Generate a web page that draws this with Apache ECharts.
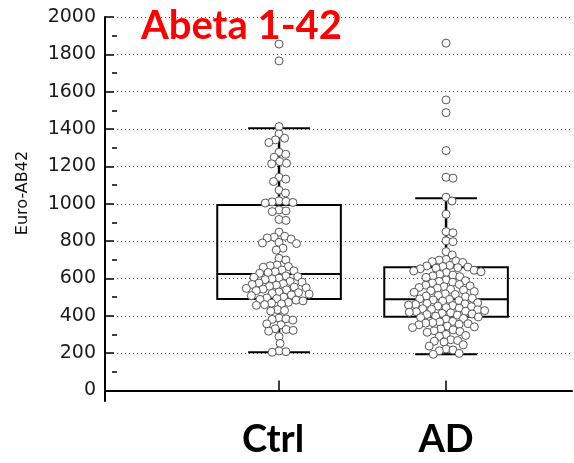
<!DOCTYPE html>
<html>
<head>
<meta charset="utf-8">
<script src="https://cdn.jsdelivr.net/npm/echarts@6/dist/echarts.min.js"></script>
<style>
  html, body { margin: 0; padding: 0; background: #fff; }
  #chart { width: 574px; height: 463px; }
</style>
</head>
<body>
<div id="chart"></div>
<script>
// Groups and where they sit on the horizontal value axis
const groups = ['Ctrl', 'AD'];
const groupPositions = [1, 2];

// Box statistics per group: [lower whisker, Q1, median, Q3, upper whisker]
const ctrlBox = [205, 490, 624, 994, 1405];
const adBox = [194, 395, 489, 660, 1030];

// Individual measurements (Euro-AB42)
const ctrlValues = [
  1855, 1765, 1413, 1374, 1351, 1342, 1328, 1276, 1265, 1249, 1226, 1217, 1214,
  1142, 1132, 1119, 1073, 1058, 1016, 1013, 1010, 1007, 1004, 967, 962, 958,
  916, 911, 848, 826, 821, 817, 811, 793, 790, 787, 762, 752,
  708, 699, 672, 668, 664, 660, 645, 641, 636, 632, 628,
  614, 610, 606, 602, 598, 594, 584, 580, 576, 572, 568, 564,
  558, 554, 550, 547, 543, 539, 535, 528, 524, 520, 516, 512, 508,
  500, 496, 492, 488, 484, 480, 472, 468, 464, 460, 456,
  433, 429, 425, 388, 384, 381, 377, 357, 352, 331, 327, 322, 318,
  289, 252, 212, 208, 205
];
const adValues = [
  1860, 1556, 1488, 1285, 1142, 1137, 1035, 1015, 944, 851, 845, 802, 797, 744, 726,
  702, 698, 694, 690, 686, 670, 667, 664, 661, 658, 655, 652,
  644, 640, 636, 632, 622, 618, 614, 610, 606,
  592, 588, 584, 580, 576, 568, 564, 560, 556, 552, 548,
  542, 538, 534, 530, 526, 518, 514, 510, 506, 502,
  494, 491, 488, 485, 482, 479, 470, 467, 464, 461, 458, 455, 452, 449,
  444, 441, 438, 435, 432, 428, 425, 422, 419, 416, 413, 410, 407, 404,
  398, 394, 390, 386, 382, 370, 367, 364, 361, 358, 355, 352,
  345, 341, 337, 330, 325, 320, 316, 312,
  300, 295, 290, 272, 268, 264, 260, 245, 238, 222, 217, 213, 199, 194
];

// Axis ticks
const yTickValues = [0, 200, 400, 600, 800, 1000, 1200, 1400, 1600, 1800, 2000];
const yMinorTickValues = [100, 300, 500, 700, 900, 1100, 1300, 1500, 1700, 1900];

const BOX_WIDTH = 0.74;
const CAP_WIDTH = 0.37;
const DOT_SIZE = 8;
const DOT_SPACING = 7;

const chart = echarts.init(document.getElementById('chart'), null, { renderer: 'canvas' });

function renderBox(params, api) {
  const x = api.value(0);
  const lo = api.value(1), q1 = api.value(2), med = api.value(3), q3 = api.value(4), hi = api.value(5);
  const c = (xx, yy) => api.coord([xx, yy]);
  const left = c(x - BOX_WIDTH / 2, q3), right = c(x + BOX_WIDTH / 2, q1);
  const cx = c(x, 0)[0];
  const capL = c(x - CAP_WIDTH / 2, 0)[0], capR = c(x + CAP_WIDTH / 2, 0)[0];
  const yLo = c(x, lo)[1], yQ1 = c(x, q1)[1], yMed = c(x, med)[1], yQ3 = c(x, q3)[1], yHi = c(x, hi)[1];
  const stroke = { stroke: '#000', lineWidth: 2, fill: null };
  return {
    type: 'group',
    children: [
      { type: 'line', shape: { x1: cx, y1: yQ3, x2: cx, y2: yHi }, style: { stroke: '#000', lineWidth: 2.5 } },
      { type: 'line', shape: { x1: cx, y1: yQ1, x2: cx, y2: yLo }, style: { stroke: '#000', lineWidth: 2.5 } },
      { type: 'line', shape: { x1: capL, y1: yHi, x2: capR, y2: yHi }, style: stroke },
      { type: 'line', shape: { x1: capL, y1: yLo, x2: capR, y2: yLo }, style: stroke },
      { type: 'rect', shape: { x: left[0], y: left[1], width: right[0] - left[0], height: right[1] - left[1] }, style: { stroke: '#000', lineWidth: 2, fill: 'rgba(0,0,0,0)' } },
      { type: 'line', shape: { x1: left[0], y1: yMed, x2: right[0], y2: yMed }, style: stroke }
    ]
  };
}

const option = {
  animation: false,
  backgroundColor: '#fff',
  title: {
    text: 'Abeta 1-42',
    left: 136,
    top: 1,
    textStyle: { color: '#ff0000', fontFamily: 'Lato', fontWeight: 'bold', fontSize: 40 }
  },
  grid: { left: 105, right: 2, top: 17, bottom: 62 },
  xAxis: {
    type: 'value',
    min: -0.042,
    max: 2.754,
    axisLine: { show: true, lineStyle: { color: '#000', width: 2 } },
    axisTick: { show: true, inside: true, length: 10, customValues: groupPositions, lineStyle: { color: '#000', width: 1.5 } },
    axisLabel: {
      show: true,
      customValues: groupPositions,
      formatter: v => {
        const name = groups[groupPositions.indexOf(v)] || '';
        return v === groupPositions[0] ? '{first|' + name + '}' : name;
      },
      rich: {
        first: { fontFamily: 'Lato', fontWeight: 'bold', fontSize: 38, color: '#000', padding: [0, 12, 0, 0] }
      },
      margin: 20,
      color: '#000',
      fontFamily: 'Lato',
      fontWeight: 'bold',
      fontSize: 38
    },
    splitLine: { show: false }
  },
  yAxis: [
    {
      type: 'value',
      min: -56,
      max: 2000,
      name: 'Euro-AB42',
      nameLocation: 'middle',
      nameGap: 74,
      nameRotate: 90,
      nameTextStyle: { fontFamily: 'DejaVu Sans', fontSize: 16, color: '#111', padding: [0, 0, 0, 32] },
      axisLine: { show: true, onZero: false, lineStyle: { color: '#000', width: 2 } },
      axisTick: { show: true, inside: true, length: 9, customValues: yTickValues, lineStyle: { color: '#000', width: 1.5 } },
      axisLabel: { show: true, customValues: yTickValues, formatter: v => String(v), margin: 9, color: '#1a1a1a', fontFamily: 'DejaVu Sans', fontSize: 19 },
      splitLine: { show: true, lineStyle: { color: '#555', type: [1, 3], width: 1 } }
    },
    {
      type: 'value',
      min: -56,
      max: 2000,
      position: 'left',
      axisLine: { show: false },
      axisTick: { show: true, inside: true, length: 5, customValues: yMinorTickValues, lineStyle: { color: '#000', width: 1.5 } },
      axisLabel: { show: false },
      splitLine: { show: false }
    }
  ],
  series: [
    {
      id: 'boxes',
      type: 'custom',
      renderItem: renderBox,
      encode: { x: 0, y: [1, 2, 3, 4, 5] },
      data: [
        [groupPositions[0]].concat(ctrlBox),
        [groupPositions[1]].concat(adBox)
      ],
      z: 2
    },
    {
      id: 'ctrlPoints',
      type: 'scatter',
      symbol: 'circle',
      symbolSize: DOT_SIZE,
      itemStyle: { color: '#fff', borderColor: '#555', borderWidth: 1, opacity: 1 },
      data: [],
      z: 5
    },
    {
      id: 'adPoints',
      type: 'scatter',
      symbol: 'circle',
      symbolSize: DOT_SIZE,
      itemStyle: { color: '#fff', borderColor: '#555', borderWidth: 1, opacity: 1 },
      data: [],
      z: 5
    }
  ]
};

chart.setOption(option);

// Beeswarm layout: spread points sideways so circles barely overlap
function swarm(values, center) {
  const D = DOT_SPACING;
  const p0 = chart.convertToPixel({ gridIndex: 0 }, [0, 0]);
  const p1 = chart.convertToPixel({ gridIndex: 0 }, [1, 0]);
  const pxPerUnit = p1[0] - p0[0];
  const pts = values.map(v => ({ v: v, y: chart.convertToPixel({ gridIndex: 0 }, [center, v])[1], x: 0 }));
  const order = pts.slice().sort((a, b) => b.v - a.v);
  const placed = [];
  order.forEach(p => {
    const cands = [0];
    placed.forEach(q => {
      const dy = Math.abs(p.y - q.y);
      if (dy < D) {
        const dx = Math.sqrt(D * D - dy * dy);
        cands.push(q.x + dx, q.x - dx);
      }
    });
    cands.sort((a, b) => Math.abs(a) - Math.abs(b));
    for (const c of cands) {
      const ok = placed.every(q => {
        const dx = c - q.x, dy = p.y - q.y;
        return dx * dx + dy * dy >= D * D - 1e-6;
      });
      if (ok) { p.x = c; break; }
    }
    placed.push(p);
  });
  return pts.map(p => [center + p.x / pxPerUnit, p.v]);
}

chart.setOption({
  series: [
    { id: 'ctrlPoints', data: swarm(ctrlValues, groupPositions[0]) },
    { id: 'adPoints', data: swarm(adValues, groupPositions[1]) }
  ]
});
</script>
</body>
</html>
